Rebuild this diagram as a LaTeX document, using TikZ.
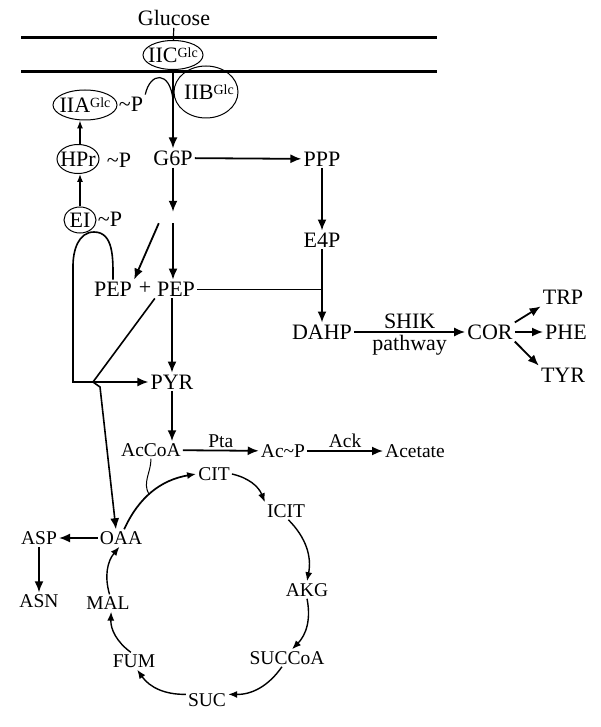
\documentclass[tikz,border=0pt]{standalone}
\usepackage{fontspec}
\setmainfont{Liberation Serif}
\usetikzlibrary{shapes.geometric, arrows.meta}
\newcommand{\glcsup}{\raisebox{5pt}{\fontsize{14}{14}\selectfont Glc}}
\newcommand{\phos}{\textasciitilde P}
\begin{document}
\begin{tikzpicture}[x=1pt, y=-1pt,
  met/.style={font=\fontsize{22}{24}\selectfont, inner sep=2pt},
  tca/.style={font=\fontsize{19.5}{22}\selectfont, inner sep=2pt},
  enz/.style={draw, ellipse, line width=1pt, inner sep=-20pt, font=\fontsize{22}{24}\selectfont},
  flux/.style={line width=1.8pt, -{Latex[length=11pt, width=9pt]}},
  cyc/.style={line width=1.4pt, -{Latex[length=9pt, width=7pt]}, bend left=28}]
  \useasboundingbox (0, 0) rectangle (600, 727);
  % membrane
  \draw[line width=3pt] (21, 38) -- (437, 38);
  \draw[line width=3pt] (21, 72) -- (437, 72);
  \node[met] (glucose) at (174, 18) {Glucose};
  \node[enz, minimum width=60, minimum height=29] (iic) at (173, 55) {IIC\glcsup};
  \node[enz, minimum width=64, minimum height=52] (iib) at (206, 92) {\hspace{6pt}IIB\glcsup};
  \node[enz, minimum width=64, minimum height=30] (iia) at (85, 105) {IIA\glcsup};
  \node[enz, minimum width=42, minimum height=29] (hpr) at (78, 159) {HPr};
  \node[enz, minimum width=32, minimum height=26] (ei) at (80, 220) {EI};
  \node[met] (iiap) at (131, 104) {\phos};
  \node[met] (hprp) at (119, 160) {\phos};
  \node[met] (eip) at (110, 219) {\phos};
  % upper glycolysis and shikimate branch
  \node[met] (g6p) at (173, 158) {G6P};
  \node[met] (ppp) at (322, 159) {PPP};
  \node[met] (e4p) at (322, 240) {E4P};
  \node[met] (dahp) at (322, 332) {DAHP};
  \node[met] (cor) at (490, 332) {COR};
  \node[met] (trp) at (563, 297) {TRP};
  \node[met] (phe) at (566, 332) {PHE};
  \node[met] (tyr) at (563, 375) {TYR};
  \node[inner sep=0, minimum width=28, minimum height=11] (fbp) at (173, 217.5) {};
  \node[met] (pepl) at (113, 289) {PEP};
  \node[met] (plus) at (145, 288) {+};
  \node[met] (pepr) at (176, 289) {PEP};
  \node[met] (pyr) at (172, 382) {PYR};
  \coordinate (hump) at (94, 232);
  \coordinate (jn) at (93, 382);
  \coordinate (kink) at (100, 387);
  % acetate and TCA cycle
  \node[tca] (accoa) at (151, 450) {AcCoA};
  \node[tca] (acp) at (283, 451) {Ac\textasciitilde P};
  \node[tca] (acetate) at (415, 451) {Acetate};
  \node[tca] (cit) at (214, 474) {CIT};
  \node[tca] (icit) at (286, 511) {ICIT};
  \node[tca] (akg) at (307, 590) {AKG};
  \node[tca] (succoa) at (287, 658) {SUCCoA};
  \node[tca] (suc) at (207, 700) {SUC};
  \node[tca] (fum) at (134, 661) {FUM};
  \node[tca] (mal) at (108, 603) {MAL};
  \node[tca] (oaa) at (121, 538) {OAA};
  \node[tca] (asp) at (39, 538) {ASP};
  \node[tca] (asn) at (39, 601) {ASN};

  \draw[line width=1.2pt] (glucose) -- (iic);
  \draw[flux] (iic) -- (g6p);
  \draw[line width=1.2pt] (iiap.north east) .. controls (150, 72) and (170, 70) .. (173, 100);
  \draw[line width=1.3pt, -{Latex[length=8pt, width=6pt]}] (ei |- hpr.north) -- (ei |- iia.south);
  \draw[line width=1.3pt, -{Latex[length=8pt, width=6pt]}] (ei) -- (ei |- hpr.south);
  \draw[flux] (g6p) -- (ppp);
  \draw[flux] (ppp) -- (e4p);
  \draw[flux] (e4p) -- (dahp);
  \draw[line width=0.9pt] (pepr.east) -- (pepr.east -| e4p);
  \draw[flux] (dahp) -- node[above, met] {SHIK} node[below, met] {pathway} (cor);
  \draw[flux] (cor.north east) -- (trp.south west);
  \draw[flux] (cor) -- (phe);
  \draw[flux] (cor.south east) -- (tyr.north west);
  \draw[flux] (g6p) -- (fbp);
  \draw[flux] (fbp) -- (fbp |- pepr.north);
  \draw[flux] (fbp.south west) -- (pepl.north east);
  \draw[flux] (pyr |- pepr.south) -- (pyr);
  \draw[line width=1.6pt, -{Latex[length=11pt, width=9pt]}] (pepl.north) to[out=90, in=0] (hump)
    to[out=180, in=90] (73, 266) |- (pyr);
  \draw[line width=1.6pt, -{Latex[length=11pt, width=9pt]}] (pepr.south west) -- (jn) -- (kink) -- (oaa.120);
  \draw[flux] (pyr) -- (pyr |- accoa.north);
  \draw[flux] (accoa) -- node[above, tca] {Pta} (acp);
  \draw[flux] (acp) -- node[above, tca] {Ack} (acetate);
  \draw[cyc, line width=1.7pt] (oaa.70) to coordinate[pos=0.45] (cj) (cit.west);
  \draw[line width=1pt] (accoa.south) to[out=-90, in=120] (cj);
  \draw[cyc] (cit.east) to (icit.north west);
  \draw[cyc] (icit.-75) to (akg.north);
  \draw[cyc] (akg.south) to (succoa.60);
  \draw[cyc] (succoa.-120) to (suc.15);
  \draw[cyc] (suc.165) to (fum.-70);
  \draw[cyc] (fum.110) to (mal.-70);
  \draw[cyc] (mal.80) to (oaa.-100);
  \draw[flux, line width=1.5pt] (oaa) -- (asp);
  \draw[flux, line width=1.5pt] (asp) -- (asn);
\end{tikzpicture}
\end{document}
